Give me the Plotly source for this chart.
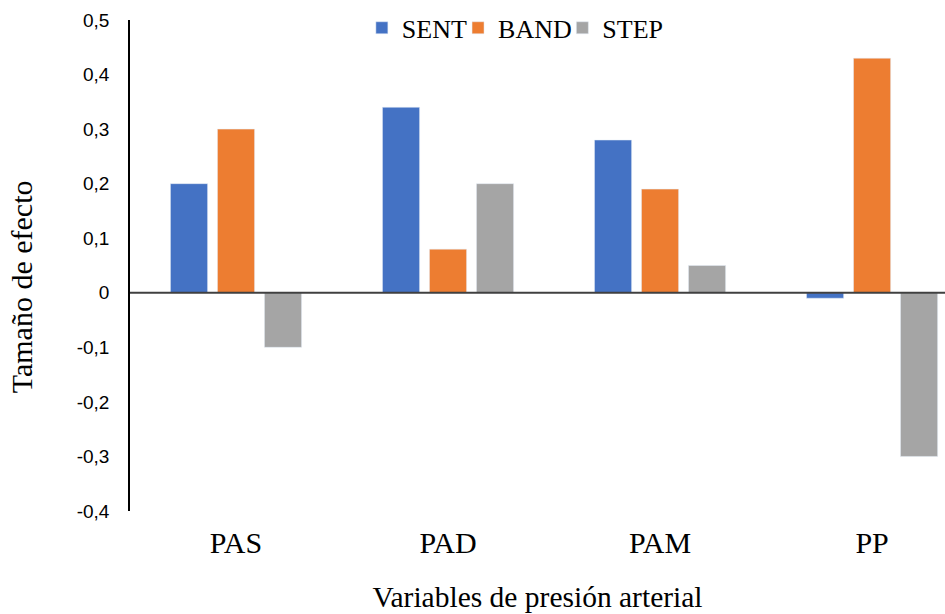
import plotly.graph_objects as go

# Effect sizes by blood-pressure variable and intervention
categories = ["PAS", "PAD", "PAM", "PP"]
sent = [0.20, 0.34, 0.28, -0.01]
band = [0.30, 0.08, 0.19, 0.43]
step = [-0.10, 0.20, 0.05, -0.30]

series_names = ["SENT", "BAND", "STEP"]
series_colors = ["#4472C4", "#ED7D31", "#A5A5A5"]

y_ticks = [-0.4, -0.3, -0.2, -0.1, 0, 0.1, 0.2, 0.3, 0.4, 0.5]
y_tick_text = ["-0,4", "-0,3", "-0,2", "-0,1", "0", "0,1", "0,2", "0,3", "0,4", "0,5"]

serif = "Liberation Serif, Times New Roman, serif"
sans = "Liberation Sans, Arial, sans-serif"

fig = go.Figure()
legend_ids = ["legend", "legend2", "legend3"]
for name, vals, color, lg in zip(series_names, [sent, band, step], series_colors, legend_ids):
    fig.add_trace(go.Bar(name=name, x=categories, y=vals, marker_color=color, legend=lg))

# one legend box per series so the entries sit close together
legend_font = dict(family=serif, size=26, color="black")
legend_x = [0.2845, 0.4025, 0.5305]
legend_common = dict(
    orientation="h",
    xanchor="left",
    y=0.984,
    yanchor="middle",
    font=legend_font,
    bgcolor="rgba(0,0,0,0)",
    itemwidth=30,
)

fig.update_layout(
    width=945,
    height=614,
    margin=dict(l=130, r=0, t=20, b=103),
    paper_bgcolor="white",
    plot_bgcolor="white",
    barmode="group",
    bargap=0.335,
    bargroupgap=0.21,
    showlegend=True,
    legend=dict(x=legend_x[0], **legend_common),
    legend2=dict(x=legend_x[1], **legend_common),
    legend3=dict(x=legend_x[2], **legend_common),
    xaxis=dict(
        range=[-0.5, 3.344],
        showline=False,
        showgrid=False,
        zeroline=False,
        ticks="",
        ticklabelstandoff=11,
        tickfont=dict(family=serif, size=30, color="black"),
        title=dict(
            text="Variables de presión arterial",
            font=dict(family=serif, size=29.5, color="black"),
            standoff=28,
        ),
    ),
    yaxis=dict(
        range=[-0.4, 0.5],
        tickvals=y_ticks,
        ticktext=y_tick_text,
        showline=True,
        linecolor="black",
        linewidth=1.5,
        showgrid=False,
        zeroline=False,
        ticks="",
        ticklabelstandoff=15,
        tickfont=dict(family=sans, size=19, color="black"),
    ),
    annotations=[
        dict(
            text="Tamaño de efecto",
            xref="paper",
            yref="paper",
            x=-0.1335,
            y=0.456,
            xanchor="center",
            yanchor="middle",
            textangle=-90,
            showarrow=False,
            font=dict(family=serif, size=30, color="black"),
        )
    ],
    shapes=[
        dict(
            type="line",
            xref="paper",
            yref="y",
            x0=0,
            x1=1,
            y0=0,
            y1=0,
            line=dict(color="#404040", width=2),
            layer="above",
        )
    ],
)

fig.write_html("out.html")
